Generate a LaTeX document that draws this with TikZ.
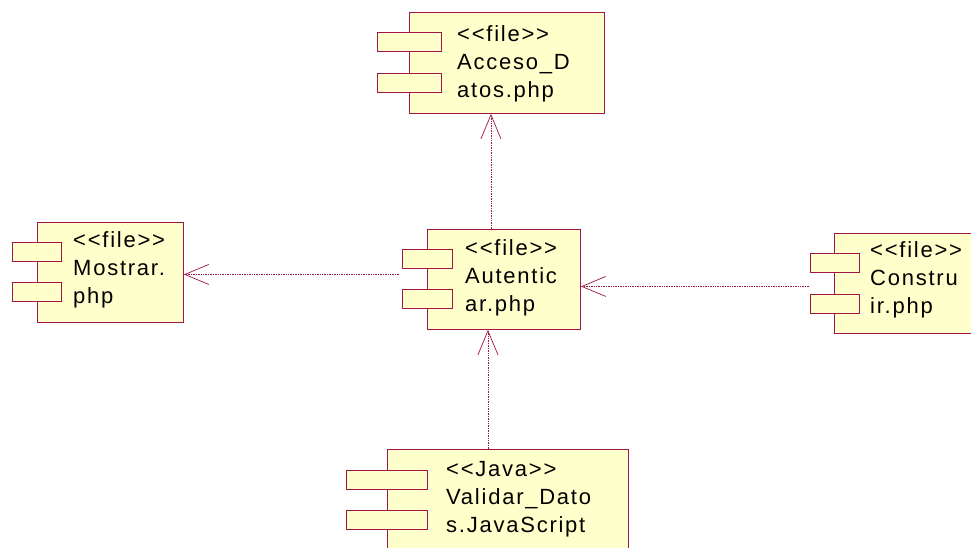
\documentclass[tikz,border=0pt]{standalone}
\usepackage{fontspec}
\newfontfamily\rosefont[LetterSpace=8]{Liberation Sans}
\usetikzlibrary{positioning,arrows.meta}

\definecolor{roseline}{RGB}{160,20,70}
\definecolor{rosefill}{RGB}{255,255,204}

\tikzset{
  comp/.style={draw=roseline, fill=rosefill, line width=0.9pt, rectangle,
    inner sep=0pt, minimum height=100pt, anchor=north west},
  tab/.style={draw=roseline, fill=rosefill, line width=0.9pt, rectangle,
    inner sep=0pt, minimum height=19pt, anchor=north west},
  compname/.style={anchor=north west, inner sep=0pt, align=left,
    font=\rosefont\fontsize{22}{28.3}\selectfont},
  dep/.style={draw=roseline, densely dotted, line width=0.7pt,
    -{Straight Barb[length=24pt,width=20pt,line width=0.7pt]}}
}

\begin{document}
\begin{tikzpicture}[x=1pt, y=-1pt]

  \useasboundingbox (0,0) rectangle (971,548);

  % components
  \node[comp, minimum width=195pt, minimum height=101pt] (acceso) at (409,12) {};
  \node[comp, minimum width=153pt] (autenticar) at (427,229) {};
  \node[comp, minimum width=146pt] (mostrar) at (37,222) {};
  \node[comp, minimum width=153pt] (construir) at (834,233) {};
  \node[comp, minimum width=241pt] (validar) at (387,449) {};

  % tabs
  \node[tab, minimum width=64pt] (acceso-t1) at ([xshift=-32pt, yshift=-20pt]acceso.north west) {};
  \node[tab, minimum width=64pt] (acceso-t2) at ([xshift=-32pt, yshift=-61pt]acceso.north west) {};
  \node[tab, minimum width=50pt] (autenticar-t1) at ([xshift=-25pt, yshift=-20pt]autenticar.north west) {};
  \node[tab, minimum width=50pt] (autenticar-t2) at ([xshift=-25pt, yshift=-60pt]autenticar.north west) {};
  \node[tab, minimum width=49pt] (mostrar-t1) at ([xshift=-25pt, yshift=-20pt]mostrar.north west) {};
  \node[tab, minimum width=49pt] (mostrar-t2) at ([xshift=-25pt, yshift=-60pt]mostrar.north west) {};
  \node[tab, minimum width=49pt] (construir-t1) at ([xshift=-24pt, yshift=-20pt]construir.north west) {};
  \node[tab, minimum width=49pt] (construir-t2) at ([xshift=-24pt, yshift=-61pt]construir.north west) {};
  \node[tab, minimum width=81pt] (validar-t1) at ([xshift=-41pt, yshift=-21pt]validar.north west) {};
  \node[tab, minimum width=81pt] (validar-t2) at ([xshift=-41pt, yshift=-61pt]validar.north west) {};

  % names
  \node[compname] (acceso-txt) at ([xshift=48pt, yshift=-13pt]acceso.north west)
    {<{}<file>{}>\\Acceso\_D\\atos.php};
  \node[compname] (autenticar-txt) at ([xshift=38pt, yshift=-10pt]autenticar.north west)
    {<{}<file>{}>\\Autentic\\ar.php};
  \node[compname] (mostrar-txt) at ([xshift=36pt, yshift=-9pt]mostrar.north west)
    {<{}<file>{}>\\Mostrar.\\php};
  \node[compname] (construir-txt) at ([xshift=36pt, yshift=-8pt]construir.north west)
    {<{}<file>{}>\\Constru\\ir.php};
  \node[compname] (validar-txt) at ([xshift=59pt, yshift=-12pt]validar.north west)
    {<{}<Java>{}>\\Validar\_Dato\\s.JavaScript};

  % dependencies
  \coordinate (to-mostrar) at ([xshift=-28pt, yshift=5pt]autenticar.west);
  \coordinate (from-construir) at ([xshift=-25pt, yshift=-3pt]construir.west);
  \draw[dep] ([xshift=-13pt]autenticar.north) -- ([xshift=-13pt]autenticar.north |- acceso.south);
  \draw[dep] (to-mostrar) -- (to-mostrar -| mostrar.east);
  \draw[dep] (from-construir) -- (from-construir -| autenticar.east);
  \draw[dep] ([xshift=-16pt]autenticar.south |- validar.north) -- ([xshift=-16pt]autenticar.south);

\end{tikzpicture}
\end{document}
